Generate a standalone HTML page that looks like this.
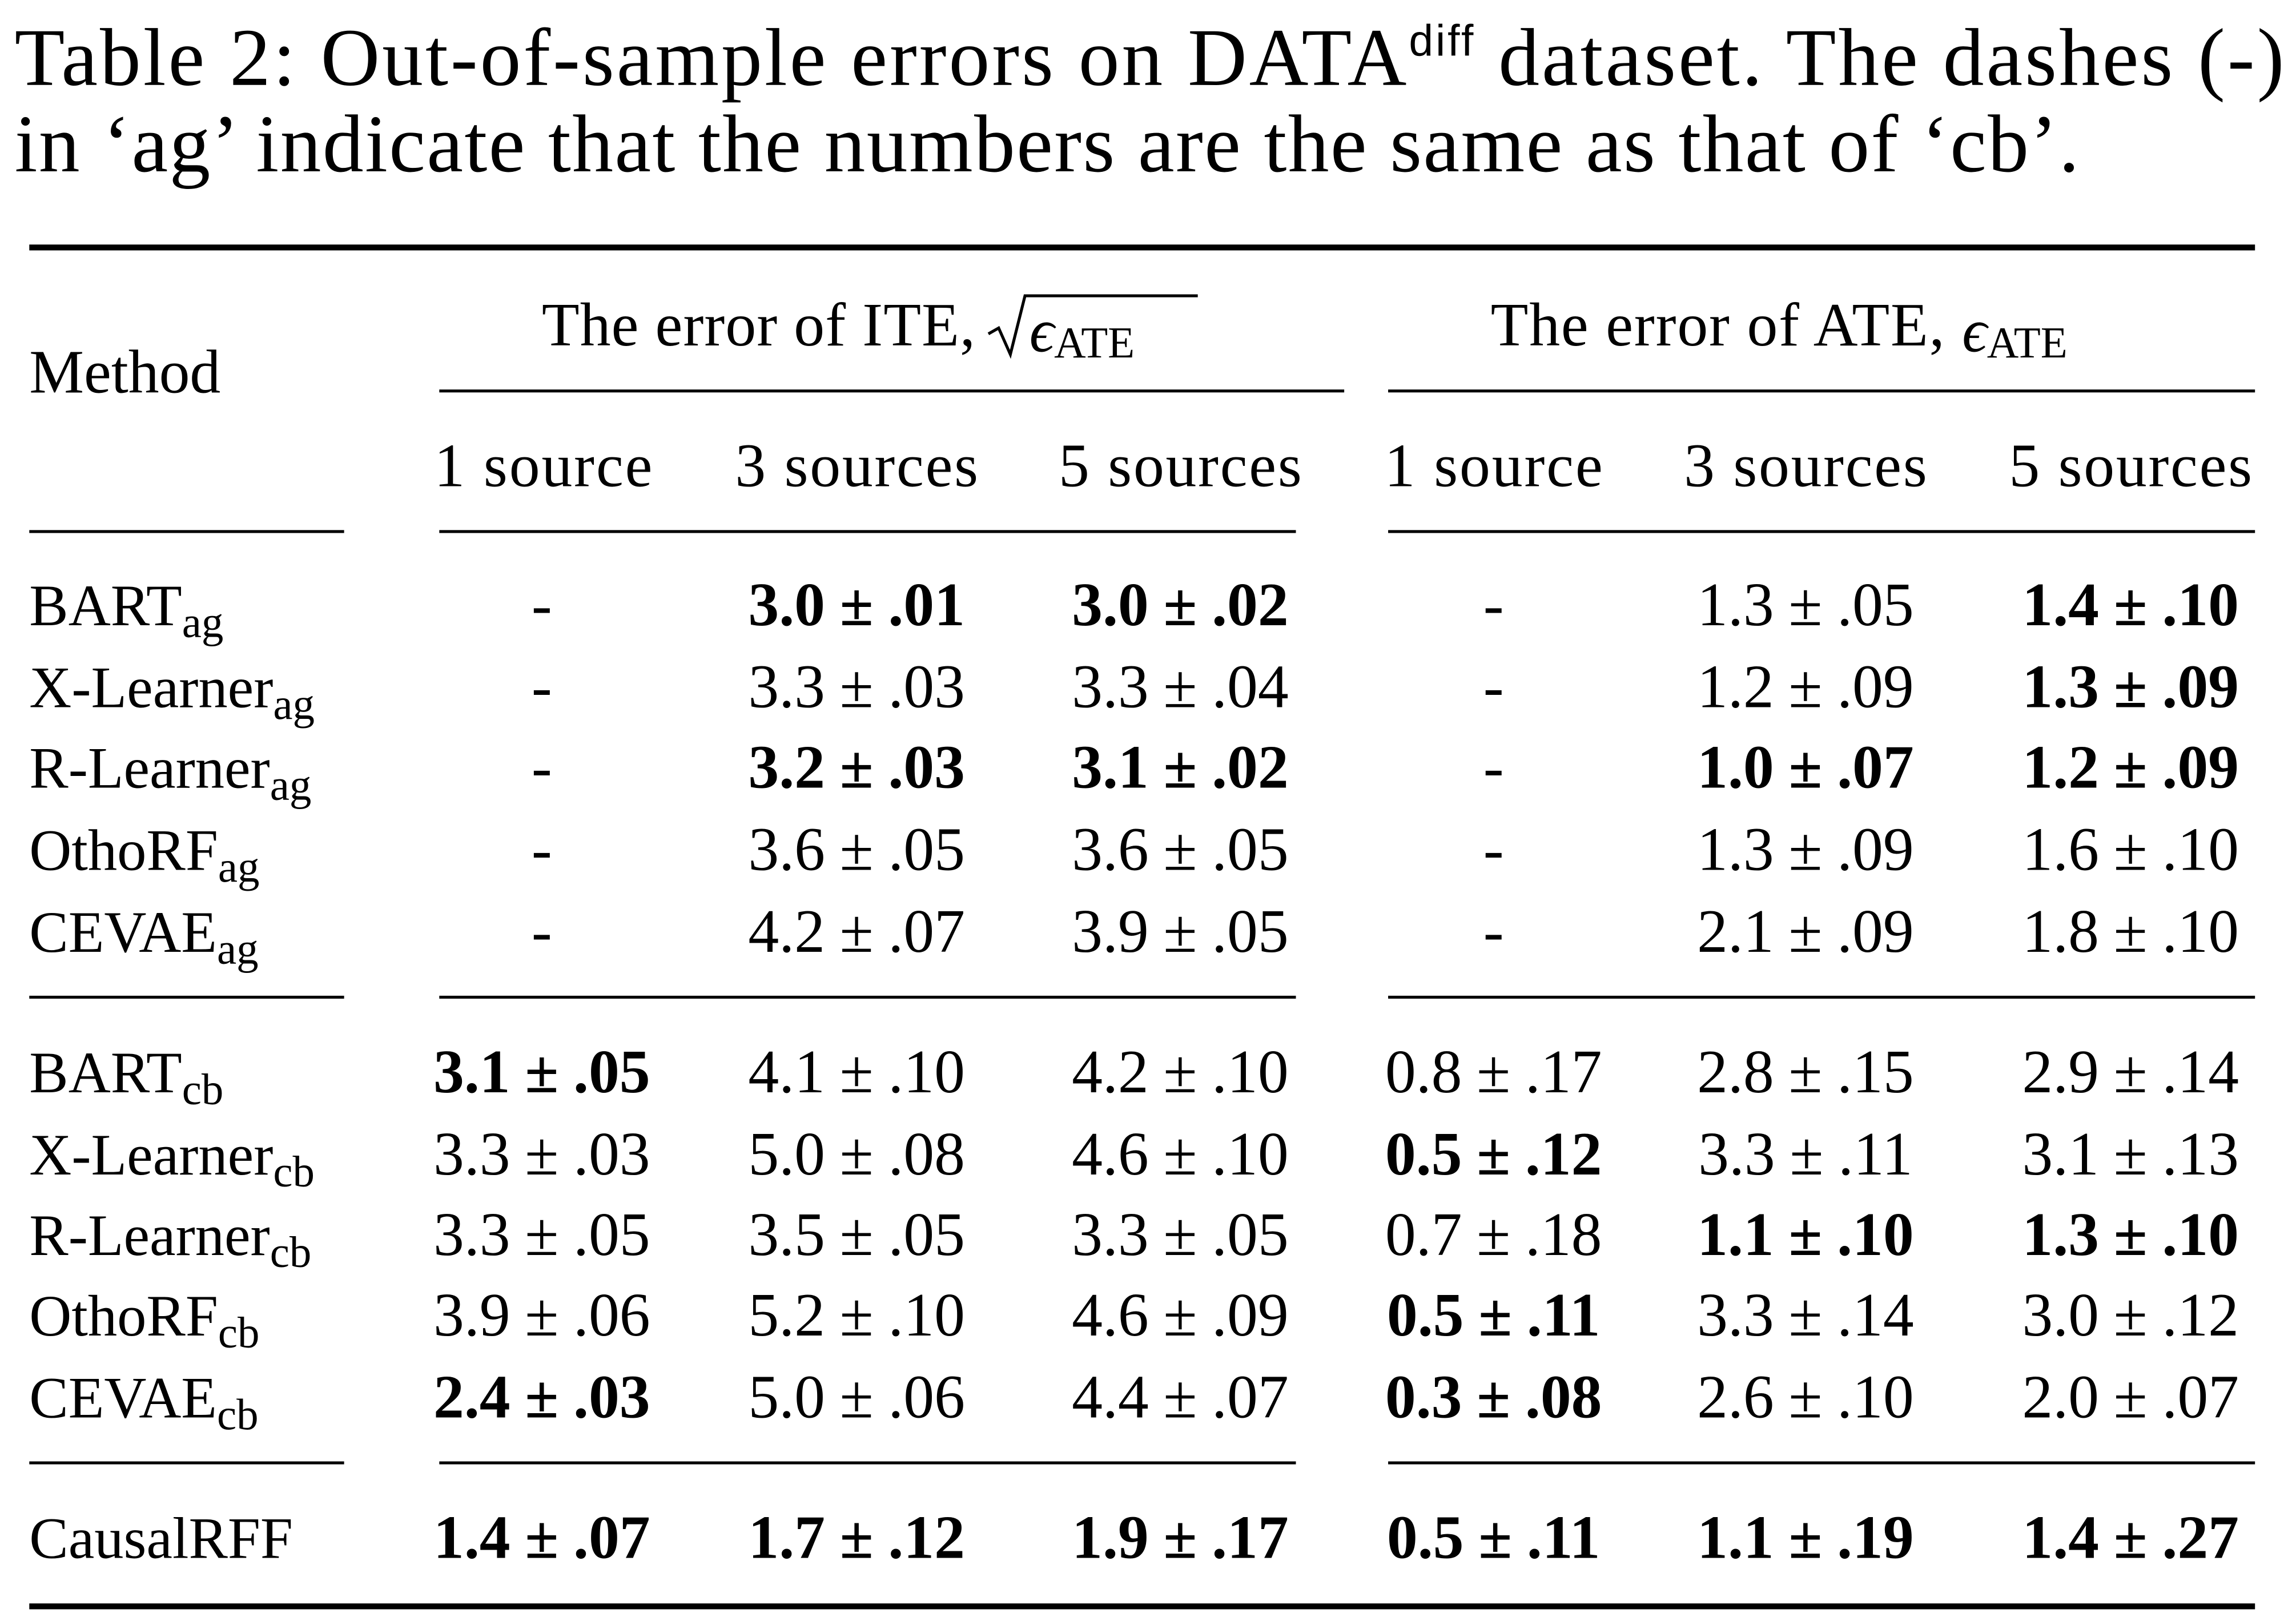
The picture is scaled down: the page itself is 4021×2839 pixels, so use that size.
<!DOCTYPE html>
<html><head><meta charset="utf-8"><style>
html,body{margin:0;padding:0;background:#fff;}
svg{display:block;}
text{font-family:"Liberation Serif",serif;fill:#000;}
</style></head><body>
<svg width="4021" height="2839" viewBox="0 0 1568 1107" preserveAspectRatio="none" xmlns="http://www.w3.org/2000/svg">
<g font-size="56">
<text x="10" y="58" textLength="1550" lengthAdjust="spacing">Table 2: Out-of-sample errors on DATA<tspan dy="-20" font-size="30" font-family="Liberation Sans">diff</tspan><tspan dy="20"> dataset. The dashes (-)</tspan></text>
<text x="10" y="117" textLength="1410" lengthAdjust="spacing">in ‘ag’ indicate that the numbers are the same as that of ‘cb’.</text>
</g>
<g fill="#000">
<rect x="20" y="167" width="1520" height="4"/>
<rect x="300" y="266" width="618" height="2"/>
<rect x="948" y="266" width="592" height="2"/>
<rect x="20" y="362" width="215" height="2"/>
<rect x="300" y="362" width="585" height="2"/>
<rect x="948" y="362" width="592" height="2"/>
<rect x="20" y="680" width="215" height="2"/>
<rect x="300" y="680" width="585" height="2"/>
<rect x="948" y="680" width="592" height="2"/>
<rect x="20" y="998" width="215" height="2"/>
<rect x="300" y="998" width="585" height="2"/>
<rect x="948" y="998" width="592" height="2"/>
<rect x="20" y="1095" width="1520" height="4"/>
</g>
<g font-size="42">
<text x="20" y="268">Method</text>
<text x="370" y="236" textLength="296" lengthAdjust="spacing">The error of ITE,</text>
<path d="M675 228 L682 224 L690 242 L700 202 L818 202" stroke="#000" stroke-width="2" fill="none"/>
<text x="703" y="240" font-style="italic">ϵ<tspan font-style="normal" font-size="30" dy="4">ATE</tspan></text>
<text x="1018" y="236" textLength="310" lengthAdjust="spacing">The error of ATE,</text>
<text x="1340" y="240" font-style="italic">ϵ<tspan font-style="normal" font-size="30" dy="4">ATE</tspan></text>
<g text-anchor="middle">
<text x="371" y="332" textLength="149" lengthAdjust="spacing">1 source</text>
<text x="585" y="332" textLength="166" lengthAdjust="spacing">3 sources</text>
<text x="806" y="332" textLength="166" lengthAdjust="spacing">5 sources</text>
<text x="1020" y="332" textLength="149" lengthAdjust="spacing">1 source</text>
<text x="1233" y="332" textLength="166" lengthAdjust="spacing">3 sources</text>
<text x="1455" y="332" textLength="166" lengthAdjust="spacing">5 sources</text>
</g>
</g>
<g id="body" font-size="42"></g>
</svg>
<script>
const methods=[["BART","ag"],["X-Learner","ag"],["R-Learner","ag"],["OthoRF","ag"],["CEVAE","ag"],["BART","cb"],["X-Learner","cb"],["R-Learner","cb"],["OthoRF","cb"],["CEVAE","cb"],["CausalRFF",""]];
const values=[
["-","*3.0±.01","*3.0±.02","-","1.3±.05","*1.4±.10"],
["-","3.3±.03","3.3±.04","-","1.2±.09","*1.3±.09"],
["-","*3.2±.03","*3.1±.02","-","*1.0±.07","*1.2±.09"],
["-","3.6±.05","3.6±.05","-","1.3±.09","1.6±.10"],
["-","4.2±.07","3.9±.05","-","2.1±.09","1.8±.10"],
["*3.1±.05","4.1±.10","4.2±.10","0.8±.17","2.8±.15","2.9±.14"],
["3.3±.03","5.0±.08","4.6±.10","*0.5±.12","3.3±.11","3.1±.13"],
["3.3±.05","3.5±.05","3.3±.05","0.7±.18","*1.1±.10","*1.3±.10"],
["3.9±.06","5.2±.10","4.6±.09","*0.5±.11","3.3±.14","3.0±.12"],
["*2.4±.03","5.0±.06","4.4±.07","*0.3±.08","2.6±.10","2.0±.07"],
["*1.4±.07","*1.7±.12","*1.9±.17","*0.5±.11","*1.1±.19","*1.4±.27"]];
const rowY=[427,483,538,594,650,746,802,857,912,968,1064];
const colX=[370,585,806,1020,1233,1455];
const NS="http://www.w3.org/2000/svg";
const body=document.getElementById('body');
methods.forEach((m,i)=>{
  const t=document.createElementNS(NS,'text');
  t.setAttribute('x',20);t.setAttribute('y',rowY[i]);
  t.setAttribute('font-size','40');
  
  
  t.textContent=m[0];
  if(m[1]){const s=document.createElementNS(NS,'tspan');s.setAttribute('font-size','30');s.setAttribute('dy','8');s.textContent=m[1];t.appendChild(s);}
  body.appendChild(t);
  values[i].forEach((v,j)=>{
    const c=document.createElementNS(NS,'text');
    c.setAttribute('x',colX[j]);c.setAttribute('y',rowY[i]);
    c.setAttribute('text-anchor','middle');
    
    
    if(v[0]==='*'){v=v.slice(1);c.setAttribute('font-weight','bold');}
    if(v==='-'){c.textContent=v;}
    else{
      const parts=v.split('±');
      const a=document.createElementNS(NS,'tspan');a.textContent=parts[0];c.appendChild(a);
      const p=document.createElementNS(NS,'tspan');p.setAttribute('dx','10');p.textContent='±';c.appendChild(p);
      const b=document.createElementNS(NS,'tspan');b.setAttribute('dx','10');b.textContent=parts[1];c.appendChild(b);
    }
    body.appendChild(c);
  });
});
</script>
</body></html>
